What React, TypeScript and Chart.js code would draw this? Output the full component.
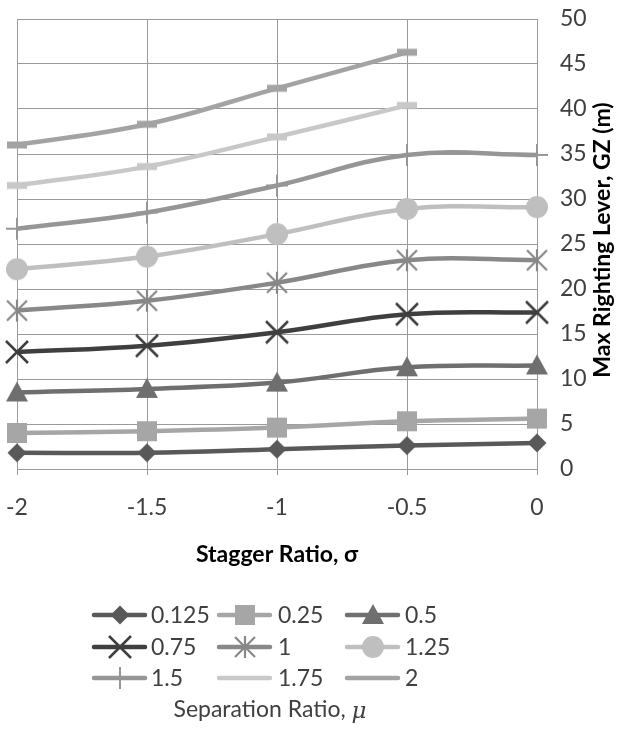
import React, { useEffect, useRef } from 'react';
import { Chart, registerables } from 'chart.js';

Chart.register(...registerables);

// ---- data ----
const categories = ['-2', '-1.5', '-1', '-0.5', '0'];
const seriesLabels = ['0.125', '0.25', '0.5', '0.75', '1', '1.25', '1.5', '1.75', '2'];
const mu0125 = [1.8, 1.8, 2.2, 2.6, 2.9];
const mu025 = [4.0, 4.2, 4.6, 5.3, 5.6];
const mu05 = [8.5, 8.9, 9.6, 11.3, 11.5];
const mu075 = [13.0, 13.7, 15.2, 17.2, 17.4];
const mu1 = [17.6, 18.7, 20.7, 23.2, 23.2];
const mu125 = [22.2, 23.6, 26.1, 28.9, 29.1];
const mu15 = [26.7, 28.5, 31.5, 34.9, 34.9];
const mu175 = [31.5, 33.6, 36.9, 40.4, null];
const mu2 = [36.0, 38.3, 42.3, 46.3, null];
const seriesValues = [mu0125, mu025, mu05, mu075, mu1, mu125, mu15, mu175, mu2];
const yMin = 0;
const yMax = 50;
const yStep = 5;
const xTitle = 'Stagger Ratio, σ';
const yTitle = 'Max Righting Lever, GZ (m)';
const legendTitle = 'Separation Ratio, ';
const legendTitleSymbol = 'μ';

// ---- styles ----
const colors = ['#595959', '#a6a6a6', '#6f6f6f', '#3f3f3f', '#888888', '#bfbfbf', '#969696', '#c8c8c8', '#a3a3a3'];
const markerKinds = ['diamond', 'square', 'triangle', 'x', 'star', 'circle', 'plus', 'dash', 'dash'];
const GRID = '#9a9a9a';
const FONT = 'Lato, "Open Sans", sans-serif';
const TEXT = '#404040';

function makeMarker(kind: string, color: string): HTMLCanvasElement {
  const c = document.createElement('canvas');
  const S = 28;
  c.width = S;
  c.height = S;
  const g = c.getContext('2d')!;
  const m = S / 2;
  g.fillStyle = color;
  g.strokeStyle = color;
  g.lineCap = 'butt';
  g.beginPath();
  switch (kind) {
    case 'diamond':
      g.moveTo(m, m - 9.5);
      g.lineTo(m + 9.5, m);
      g.lineTo(m, m + 9.5);
      g.lineTo(m - 9.5, m);
      g.closePath();
      g.fill();
      break;
    case 'square':
      g.rect(m - 10, m - 10, 20, 20);
      g.fill();
      break;
    case 'triangle':
      g.moveTo(m, m - 11);
      g.lineTo(m + 11, m + 9);
      g.lineTo(m - 11, m + 9);
      g.closePath();
      g.fill();
      break;
    case 'x':
      g.lineWidth = 2.5;
      g.moveTo(m - 11, m - 11);
      g.lineTo(m + 11, m + 11);
      g.moveTo(m + 11, m - 11);
      g.lineTo(m - 11, m + 11);
      g.stroke();
      break;
    case 'star':
      g.lineWidth = 2.2;
      g.moveTo(m - 10, m - 10);
      g.lineTo(m + 10, m + 10);
      g.moveTo(m + 10, m - 10);
      g.lineTo(m - 10, m + 10);
      g.moveTo(m, m - 11);
      g.lineTo(m, m + 11);
      g.stroke();
      break;
    case 'circle':
      g.arc(m, m, 11, 0, Math.PI * 2);
      g.fill();
      break;
    case 'plus':
      g.lineWidth = 2;
      g.moveTo(m, m - 11);
      g.lineTo(m, m + 11);
      g.moveTo(m - 11, m);
      g.lineTo(m + 11, m);
      g.stroke();
      break;
    case 'dash':
      g.rect(m - 10, m - 3.5, 20, 7);
      g.fill();
      break;
  }
  return c;
}

const legendColX = [92, 217, 345];
const legendLineLen = 55;
const legendTextX = [151, 278, 405];
const legendRowY = [615, 647, 678];

export default function App() {
  const ref = useRef<HTMLCanvasElement>(null);
  useEffect(() => {
    const markers = markerKinds.map((k, i) => makeMarker(k, colors[i]));
    const datasets = seriesLabels.map((lab, i) => ({
      label: lab,
      data: seriesValues[i],
      borderColor: colors[i],
      backgroundColor: colors[i],
      borderWidth: 4.5,
      tension: 0.4,
      pointStyle: markers[i],
      pointRadius: 10,
      clip: false as any,
      spanGaps: false,
    }));

    const overlay = {
      id: 'overlay',
      afterDraw(chart: any) {
        const ctx = chart.ctx as CanvasRenderingContext2D;
        ctx.save();
        // y-axis title (reads bottom to top)
        ctx.translate(603, 240);
        ctx.rotate(-Math.PI / 2);
        ctx.fillStyle = '#000';
        ctx.font = `bold 23px ${FONT}`;
        ctx.textAlign = 'center';
        ctx.textBaseline = 'middle';
        ctx.fillText(yTitle, 0, 0);
        ctx.restore();

        // legend
        ctx.save();
        for (let i = 0; i < seriesLabels.length; i++) {
          const col = i % 3;
          const row = Math.floor(i / 3);
          const x0 = legendColX[col];
          const y = legendRowY[row];
          ctx.strokeStyle = colors[i];
          ctx.lineWidth = 4.5;
          ctx.lineCap = 'round';
          ctx.beginPath();
          ctx.moveTo(x0 + 2, y);
          ctx.lineTo(x0 + legendLineLen - 2, y);
          ctx.stroke();
          const mk = markers[i];
          const cx = x0 + legendLineLen / 2;
          if (markerKinds[i] !== 'dash') {
            ctx.drawImage(mk, Math.round(cx - mk.width / 2), Math.round(y - mk.height / 2));
          }
          ctx.fillStyle = TEXT;
          ctx.font = `23px ${FONT}`;
          ctx.textAlign = 'left';
          ctx.textBaseline = 'middle';
          ctx.fillText(seriesLabels[i], legendTextX[col], y + 1);
        }
        // legend title
        ctx.font = `23px ${FONT}`;
        const w1 = ctx.measureText(legendTitle).width;
        ctx.font = `italic 23px "DejaVu Serif", serif`;
        const w2 = ctx.measureText(legendTitleSymbol).width;
        const start = 270 - (w1 + w2) / 2;
        ctx.fillStyle = TEXT;
        ctx.textAlign = 'left';
        ctx.textBaseline = 'middle';
        ctx.font = `23px ${FONT}`;
        ctx.fillText(legendTitle, start, 710);
        ctx.font = `italic 23px "DejaVu Serif", serif`;
        ctx.fillText(legendTitleSymbol, start + w1, 712);
        ctx.restore();
      },
    };

    const chart = new Chart(ref.current!, {
      type: 'line',
      data: { labels: categories, datasets: datasets as any },
      options: {
        animation: false,
        responsive: false,
        maintainAspectRatio: false,
        layout: { padding: { left: 17, top: 19, right: 0, bottom: 164 } },
        plugins: { legend: { display: false }, tooltip: { enabled: false } },
        scales: {
          x: {
            offset: false,
            grid: { color: GRID, tickLength: 6, lineWidth: 1 },
            border: { color: GRID },
            ticks: { font: { family: FONT, size: 23 }, color: TEXT, padding: 19, maxRotation: 0 },
            title: {
              display: true,
              text: xTitle,
              font: { family: FONT, size: 23, weight: 'bold' },
              color: '#000',
              padding: { top: 4, bottom: 1 },
            },
            afterFit: (s: any) => { s.height = 100; s.paddingLeft = 0; s.paddingRight = 0; },
          },
          y: {
            position: 'right',
            min: yMin,
            max: yMax,
            ticks: { stepSize: yStep, padding: 23, font: { family: FONT, size: 23 }, color: TEXT },
            grid: { color: GRID, drawTicks: false, lineWidth: 1 },
            border: { color: GRID },
            afterFit: (s: any) => { s.width = 80; s.paddingTop = 0; s.paddingBottom = 0; },
          },
        },
      },
      plugins: [overlay],
    });
    return () => chart.destroy();
  }, []);
  return (
    <div style={{ position: 'absolute', left: 0, top: 0, width: 617, height: 733, background: '#fff' }}>
      <canvas ref={ref} width={617} height={733} style={{ width: 617, height: 733, display: 'block' }} />
    </div>
  );
}
